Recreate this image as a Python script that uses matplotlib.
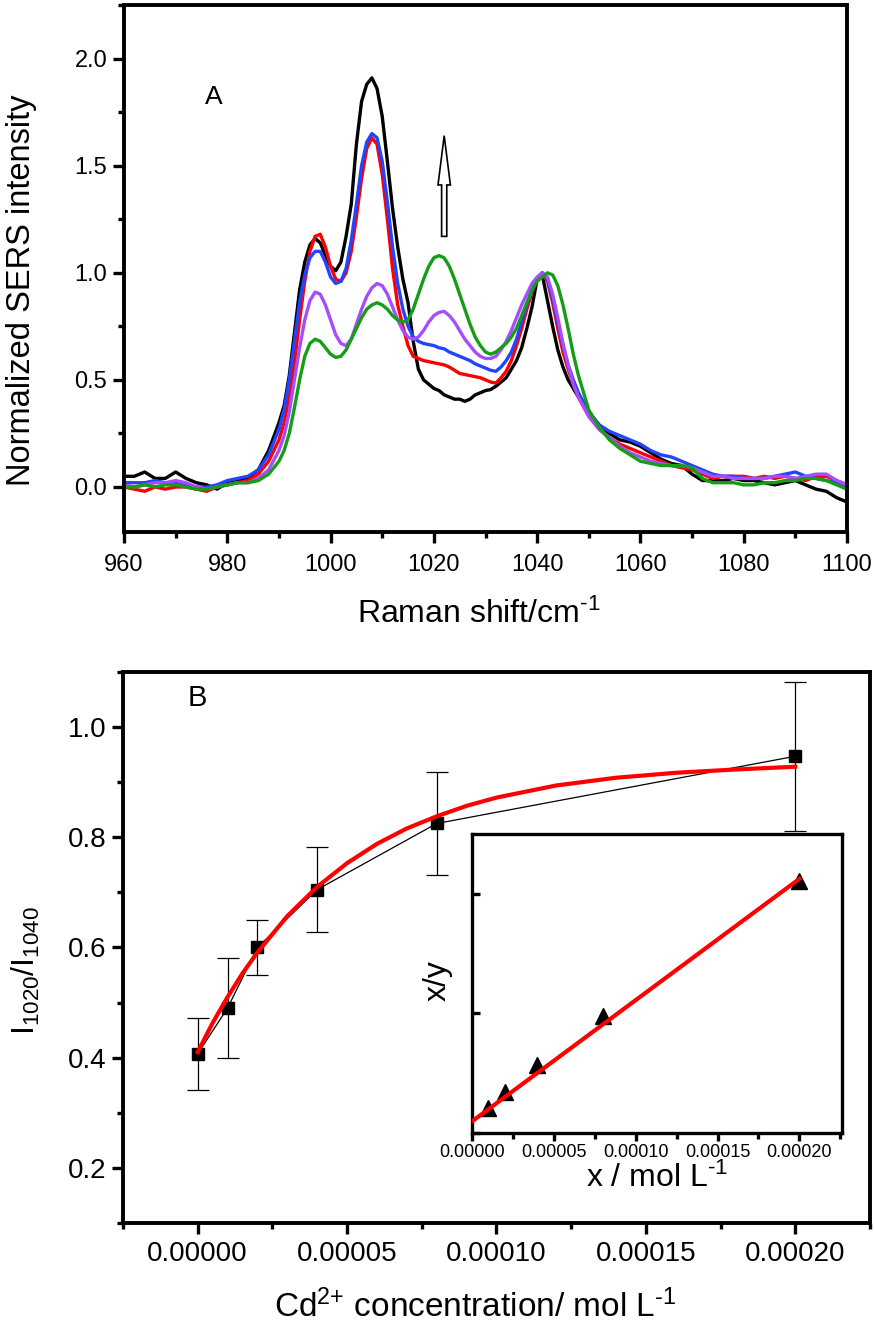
import matplotlib
matplotlib.use("Agg")
import matplotlib.pyplot as plt
from matplotlib.ticker import MultipleLocator, FormatStrFormatter, NullFormatter

plt.rcParams['font.family'] = ['Liberation Sans', 'DejaVu Sans']
plt.rcParams['mathtext.fontset'] = 'custom'
plt.rcParams['mathtext.rm'] = 'Liberation Sans'
plt.rcParams['mathtext.default'] = 'regular'

# ---- panel A: SERS spectra ----
shift = [960, 962, 964, 966, 968, 970, 972, 974, 976, 978, 980, 982, 984, 986, 988,
         990, 991, 992, 993, 994, 995, 996, 997, 998, 999, 1000, 1001, 1002, 1003, 1004,
         1005, 1006, 1007, 1008, 1009, 1010, 1011, 1012, 1013, 1014, 1015, 1016, 1017, 1018, 1019,
         1020, 1021, 1022, 1023, 1024, 1025, 1026, 1027, 1028, 1029, 1030, 1031, 1032, 1033, 1034,
         1035, 1036, 1037, 1038, 1039, 1040, 1041, 1042, 1043, 1044, 1045, 1046, 1047, 1048,
         1050, 1052, 1054, 1056, 1058, 1060, 1062, 1064, 1066, 1068, 1070, 1072, 1074, 1076, 1078,
         1080, 1082, 1084, 1086, 1088, 1090, 1092, 1094, 1096, 1098, 1100]

black = [0.05, 0.05, 0.07, 0.04, 0.04, 0.07, 0.04, 0.02, 0.01, -0.01, 0.02, 0.03, 0.04, 0.08, 0.17,
         0.30, 0.38, 0.52, 0.72, 0.92, 1.05, 1.13, 1.16, 1.14, 1.08, 1.03, 1.01, 1.05, 1.17, 1.32,
         1.60, 1.80, 1.88, 1.91, 1.86, 1.73, 1.52, 1.30, 1.12, 0.97, 0.86, 0.68, 0.55, 0.50, 0.48,
         0.46, 0.45, 0.43, 0.42, 0.41, 0.41, 0.40, 0.41, 0.43, 0.44, 0.45, 0.455, 0.47, 0.49, 0.51,
         0.55, 0.59, 0.65, 0.74, 0.84, 0.97, 0.99, 0.87, 0.75, 0.64, 0.56, 0.50, 0.46, 0.42,
         0.35, 0.29, 0.25, 0.22, 0.21, 0.19, 0.16, 0.13, 0.11, 0.10, 0.06, 0.03, 0.03, 0.03, 0.04,
         0.03, 0.03, 0.02, 0.01, 0.02, 0.03, 0.01, -0.01, -0.02, -0.05, -0.07]

red = [0.00, -0.01, -0.02, 0.00, -0.01, 0.00, 0.00, -0.01, -0.02, 0.00, 0.01, 0.02, 0.03, 0.06, 0.12,
       0.22, 0.30, 0.42, 0.58, 0.78, 0.96, 1.10, 1.17, 1.18, 1.12, 1.03, 0.97, 0.96, 1.00, 1.10,
       1.26, 1.44, 1.58, 1.63, 1.60, 1.46, 1.25, 1.02, 0.85, 0.75, 0.66, 0.61, 0.60, 0.59, 0.585,
       0.58, 0.575, 0.57, 0.56, 0.545, 0.53, 0.525, 0.52, 0.515, 0.51, 0.50, 0.49, 0.485, 0.51, 0.54,
       0.59, 0.66, 0.74, 0.83, 0.91, 0.97, 1.00, 0.96, 0.86, 0.74, 0.63, 0.55, 0.48, 0.42,
       0.33, 0.27, 0.23, 0.20, 0.18, 0.16, 0.14, 0.12, 0.10, 0.09, 0.08, 0.06, 0.04, 0.05, 0.05,
       0.05, 0.04, 0.05, 0.04, 0.05, 0.04, 0.03, 0.05, 0.05, 0.03, 0.01]

blue = [0.02, 0.02, 0.02, 0.03, 0.02, 0.02, 0.01, 0.00, 0.00, 0.01, 0.03, 0.04, 0.05, 0.08, 0.15,
        0.27, 0.36, 0.50, 0.68, 0.86, 0.99, 1.07, 1.10, 1.10, 1.05, 0.98, 0.95, 0.96, 1.02, 1.15,
        1.32, 1.50, 1.61, 1.65, 1.63, 1.52, 1.33, 1.12, 0.95, 0.83, 0.75, 0.70, 0.68, 0.67, 0.665,
        0.66, 0.65, 0.645, 0.63, 0.62, 0.61, 0.60, 0.59, 0.575, 0.565, 0.555, 0.545, 0.54, 0.56, 0.59,
        0.63, 0.69, 0.77, 0.85, 0.92, 0.97, 1.00, 0.97, 0.88, 0.77, 0.66, 0.57, 0.50, 0.44,
        0.35, 0.29, 0.26, 0.24, 0.22, 0.20, 0.17, 0.15, 0.14, 0.12, 0.10, 0.08, 0.06, 0.05, 0.05,
        0.04, 0.04, 0.04, 0.05, 0.06, 0.07, 0.05, 0.04, 0.03, 0.02, 0.00]

purple = [0.01, 0.00, 0.01, 0.02, 0.02, 0.03, 0.02, 0.00, -0.01, 0.00, 0.01, 0.02, 0.02, 0.04, 0.08,
          0.17, 0.24, 0.35, 0.50, 0.65, 0.78, 0.87, 0.91, 0.90, 0.85, 0.78, 0.71, 0.67, 0.66, 0.69,
          0.76, 0.83, 0.89, 0.93, 0.95, 0.94, 0.90, 0.84, 0.78, 0.73, 0.70, 0.69, 0.70, 0.73, 0.77,
          0.80, 0.815, 0.82, 0.80, 0.77, 0.73, 0.69, 0.66, 0.63, 0.61, 0.60, 0.60, 0.61, 0.64, 0.68,
          0.73, 0.79, 0.85, 0.90, 0.95, 0.98, 1.00, 0.98, 0.90, 0.79, 0.67, 0.57, 0.48, 0.42,
          0.33, 0.27, 0.23, 0.19, 0.16, 0.14, 0.12, 0.11, 0.10, 0.10, 0.09, 0.07, 0.05, 0.05, 0.04,
          0.04, 0.04, 0.04, 0.05, 0.05, 0.04, 0.05, 0.06, 0.06, 0.03, 0.01]

green = [0.00, 0.00, 0.01, 0.00, 0.01, 0.01, 0.00, -0.01, -0.01, 0.00, 0.01, 0.02, 0.02, 0.03, 0.06,
         0.12, 0.17, 0.25, 0.37, 0.50, 0.61, 0.67, 0.69, 0.68, 0.65, 0.62, 0.605, 0.61, 0.64, 0.69,
         0.74, 0.79, 0.83, 0.85, 0.86, 0.85, 0.83, 0.80, 0.78, 0.77, 0.78, 0.83, 0.90, 0.97, 1.03,
         1.07, 1.08, 1.07, 1.03, 0.97, 0.90, 0.83, 0.76, 0.70, 0.66, 0.63, 0.62, 0.63, 0.65, 0.67,
         0.70, 0.74, 0.80, 0.86, 0.92, 0.96, 0.98, 1.00, 0.99, 0.94, 0.85, 0.74, 0.62, 0.52,
         0.36, 0.28, 0.22, 0.18, 0.15, 0.12, 0.11, 0.10, 0.10, 0.10, 0.09, 0.04, 0.02, 0.02, 0.02,
         0.01, 0.01, 0.02, 0.02, 0.03, 0.03, 0.04, 0.04, 0.03, 0.01, -0.01]

spectra = [(black, '#000000'), (red, '#ff0000'), (blue, '#2244ff'),
           (purple, '#a64dff'), (green, '#169c16')]

# ---- panel B: ratio vs concentration ----
conc = [0.0, 1e-5, 2e-5, 4e-5, 8e-5, 2e-4]
ratio = [0.407, 0.490, 0.600, 0.705, 0.825, 0.947]
ratio_err = [0.065, 0.091, 0.050, 0.077, 0.094, 0.135]

fit_x = [0.0, 0.5e-5, 1e-5, 1.5e-5, 2e-5, 3e-5, 4e-5, 5e-5, 6e-5, 7e-5, 8e-5, 9e-5, 1e-4,
         1.2e-4, 1.4e-4, 1.6e-4, 1.8e-4, 2e-4]
fit_y = [0.410, 0.463, 0.510, 0.553, 0.591, 0.657, 0.710, 0.753, 0.788, 0.816, 0.838, 0.857, 0.872,
         0.894, 0.908, 0.917, 0.923, 0.928]

# ---- inset: linearised plot ----
ins_x = [1e-5, 2e-5, 4e-5, 8e-5, 2e-4]
ins_y = [2.1e-5, 3.4e-5, 5.7e-5, 9.8e-5, 2.11e-4]
ins_fit_x = [0.0, 2e-4]
ins_fit_y = [0.97e-5, 2.125e-4]

fig = plt.figure(figsize=(8.74, 13.23), dpi=100)

def style(ax, size, pad):
    for s in ax.spines.values():
        s.set_linewidth(2.8)
    ax.tick_params(which='both', direction='out', width=2.4, labelsize=size,
                   top=False, right=False, pad=pad)
    ax.tick_params(which='major', length=8)
    ax.tick_params(which='minor', length=4.5)

# panel A
ax1 = fig.add_axes([0.1419, 0.5979, 0.8272, 0.3983])
for ys, c in spectra:
    ax1.plot(shift, ys, color=c, lw=2.4)
ax1.set_xlim(960, 1100)
ax1.set_ylim(-0.21, 2.25)
ax1.xaxis.set_major_locator(MultipleLocator(20))
ax1.xaxis.set_minor_locator(MultipleLocator(10))
ax1.yaxis.set_major_locator(MultipleLocator(0.5))
ax1.yaxis.set_minor_locator(MultipleLocator(0.25))
ax1.yaxis.set_major_formatter(FormatStrFormatter('%.1f'))
style(ax1, 17, 8)
ax1.tick_params(axis='y', pad=4)
ax1.text(0.49, -0.173, r'Raman shift/cm$^{\text{-1}}$', transform=ax1.transAxes,
         fontsize=23, ha='center', va='baseline')
ax1.set_ylabel('Normalized SERS intensity', fontsize=23.5)
ax1.yaxis.set_label_coords(-0.12, 0.459)
ax1.text(0.124, 0.825, 'A', transform=ax1.transAxes, fontsize=19, ha='center', va='center')
ax1.arrow(1022, 1.17, 0, 0.47, width=1.0, head_width=2.4, head_length=0.23,
          length_includes_head=True, fc='white', ec='black', lw=1.2)

# panel B
ax2 = fig.add_axes([0.1407, 0.0756, 0.8547, 0.4165])
ax2.errorbar(conc, ratio, yerr=ratio_err, fmt='s-', color='black', ms=9, lw=0.9,
             elinewidth=0.9, capsize=8, capthick=0.9, zorder=2)
ax2.plot(fit_x, fit_y, color='#ff0000', lw=3, zorder=3)
ax2.set_xlim(-2.5e-5, 2.25e-4)
ax2.set_ylim(0.1, 1.1)
ax2.xaxis.set_major_locator(MultipleLocator(5e-5))
ax2.xaxis.set_minor_locator(MultipleLocator(2.5e-5))
ax2.xaxis.set_major_formatter(FormatStrFormatter('%.5f'))
ax2.yaxis.set_major_locator(MultipleLocator(0.2))
ax2.yaxis.set_minor_locator(MultipleLocator(0.1))
ax2.yaxis.set_major_formatter(FormatStrFormatter('%.1f'))
style(ax2, 20, 5)
ax2.tick_params(axis='y', pad=4)
ax2.text(0.471, -0.171, r'Cd$^{2{+}}$ concentration/ mol L$^{\text{-1}}$', transform=ax2.transAxes,
         fontsize=24, ha='center', va='baseline')
ax2.set_ylabel(r'I$_{1020}$/I$_{1040}$', fontsize=23)
ax2.yaxis.set_label_coords(-0.108, 0.459)
ax2.text(0.0995, 0.953, 'B', transform=ax2.transAxes, fontsize=21, ha='center', va='center')

# inset
ax3 = fig.add_axes([0.540, 0.1436, 0.4233, 0.226])
ax3.plot(ins_x, ins_y, '^', color='black', ms=12, zorder=2)
ax3.plot(ins_fit_x, ins_fit_y, color='#ff0000', lw=3, zorder=3)
ax3.set_xlim(0, 2.26e-4)
ax3.set_ylim(0, 2.5e-4)
ax3.xaxis.set_major_locator(MultipleLocator(5e-5))
ax3.xaxis.set_minor_locator(MultipleLocator(2.5e-5))
ax3.xaxis.set_major_formatter(FormatStrFormatter('%.5f'))
ax3.yaxis.set_major_locator(MultipleLocator(1e-4))
ax3.yaxis.set_major_formatter(NullFormatter())
style(ax3, 13, 2)
for s in ax3.spines.values():
    s.set_linewidth(2.4)
ax3.tick_params(which='major', length=6)
ax3.tick_params(which='minor', length=4)
ax3.tick_params(axis='y', which='both', direction='in')
ax3.set_xlabel(r'x / mol L$^{\text{-1}}$', fontsize=23, labelpad=1)
ax3.set_ylabel('x/y', fontsize=23)
ax3.yaxis.set_label_coords(-0.051, 0.51)

fig.savefig('out.png', dpi=100)
